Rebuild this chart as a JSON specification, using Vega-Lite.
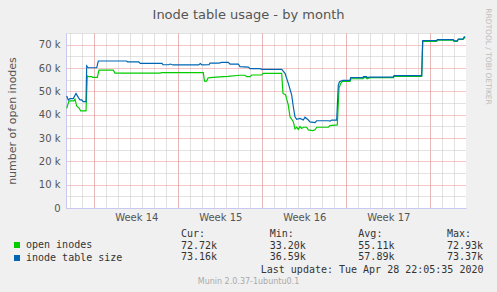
{
"$schema": "https://vega.github.io/schema/vega-lite/v6.json",
"width": 400, "height": 175,
"autosize": "none",
"padding": {"left": 66, "top": 33, "right": 31, "bottom": 84},
"background": "#F0F0F0",
"config": {
  "view": {"fill": "white", "stroke": null},
  "axis": {"labelFont": "DejaVu Sans", "titleFont": "DejaVu Sans", "titleFontWeight": "normal", "gridDash": [1, 1], "gridOpacity": 1, "domain": false, "ticks": false, "labels": false, "grid": false, "title": null}
},
"datasets": {
  "inodes": [
    {"time":"2020-03-26T16:48:00Z","series":"open inodes","value":42700},
    {"time":"2020-03-26T19:24:00Z","series":"open inodes","value":44500},
    {"time":"2020-03-26T21:24:00Z","series":"open inodes","value":45900},
    {"time":"2020-03-27T07:24:00Z","series":"open inodes","value":45900},
    {"time":"2020-03-27T09:24:00Z","series":"open inodes","value":46600},
    {"time":"2020-03-27T12:48:00Z","series":"open inodes","value":43700},
    {"time":"2020-03-27T18:00:00Z","series":"open inodes","value":42700},
    {"time":"2020-03-27T20:48:00Z","series":"open inodes","value":41600},
    {"time":"2020-03-28T07:24:00Z","series":"open inodes","value":41600},
    {"time":"2020-03-28T10:00:00Z","series":"open inodes","value":56600},
    {"time":"2020-03-28T12:00:00Z","series":"open inodes","value":56300},
    {"time":"2020-03-28T18:48:00Z","series":"open inodes","value":56300},
    {"time":"2020-03-28T20:48:00Z","series":"open inodes","value":56000},
    {"time":"2020-03-29T06:00:00Z","series":"open inodes","value":56000},
    {"time":"2020-03-29T09:24:00Z","series":"open inodes","value":59100},
    {"time":"2020-03-30T14:00:00Z","series":"open inodes","value":59100},
    {"time":"2020-03-30T17:24:00Z","series":"open inodes","value":57800},
    {"time":"2020-04-03T11:24:00Z","series":"open inodes","value":57800},
    {"time":"2020-04-03T15:24:00Z","series":"open inodes","value":58000},
    {"time":"2020-04-07T02:00:00Z","series":"open inodes","value":58000},
    {"time":"2020-04-07T04:24:00Z","series":"open inodes","value":54400},
    {"time":"2020-04-07T08:48:00Z","series":"open inodes","value":54400},
    {"time":"2020-04-07T11:24:00Z","series":"open inodes","value":55700},
    {"time":"2020-04-07T15:24:00Z","series":"open inodes","value":55900},
    {"time":"2020-04-08T11:24:00Z","series":"open inodes","value":56200},
    {"time":"2020-04-09T03:24:00Z","series":"open inodes","value":56400},
    {"time":"2020-04-10T03:24:00Z","series":"open inodes","value":56900},
    {"time":"2020-04-10T13:24:00Z","series":"open inodes","value":56900},
    {"time":"2020-04-10T16:48:00Z","series":"open inodes","value":56300},
    {"time":"2020-04-10T23:24:00Z","series":"open inodes","value":56300},
    {"time":"2020-04-11T02:48:00Z","series":"open inodes","value":57000},
    {"time":"2020-04-11T22:48:00Z","series":"open inodes","value":57000},
    {"time":"2020-04-12T01:24:00Z","series":"open inodes","value":57700},
    {"time":"2020-04-13T14:48:00Z","series":"open inodes","value":57700},
    {"time":"2020-04-13T17:24:00Z","series":"open inodes","value":49100},
    {"time":"2020-04-13T22:24:00Z","series":"open inodes","value":48600},
    {"time":"2020-04-14T04:00:00Z","series":"open inodes","value":44100},
    {"time":"2020-04-14T07:24:00Z","series":"open inodes","value":39100},
    {"time":"2020-04-14T14:00:00Z","series":"open inodes","value":37000},
    {"time":"2020-04-14T17:24:00Z","series":"open inodes","value":33900},
    {"time":"2020-04-14T20:48:00Z","series":"open inodes","value":34600},
    {"time":"2020-04-15T00:00:00Z","series":"open inodes","value":33700},
    {"time":"2020-04-15T03:24:00Z","series":"open inodes","value":34900},
    {"time":"2020-04-15T06:48:00Z","series":"open inodes","value":34100},
    {"time":"2020-04-15T10:00:00Z","series":"open inodes","value":34600},
    {"time":"2020-04-15T16:48:00Z","series":"open inodes","value":34600},
    {"time":"2020-04-15T20:00:00Z","series":"open inodes","value":33500},
    {"time":"2020-04-16T05:24:00Z","series":"open inodes","value":33200},
    {"time":"2020-04-16T09:24:00Z","series":"open inodes","value":33500},
    {"time":"2020-04-16T12:48:00Z","series":"open inodes","value":34600},
    {"time":"2020-04-17T12:00:00Z","series":"open inodes","value":34600},
    {"time":"2020-04-17T15:24:00Z","series":"open inodes","value":35300},
    {"time":"2020-04-18T06:00:00Z","series":"open inodes","value":35600},
    {"time":"2020-04-18T09:24:00Z","series":"open inodes","value":51300},
    {"time":"2020-04-18T12:48:00Z","series":"open inodes","value":53400},
    {"time":"2020-04-18T16:48:00Z","series":"open inodes","value":54300},
    {"time":"2020-04-19T07:24:00Z","series":"open inodes","value":54300},
    {"time":"2020-04-19T09:24:00Z","series":"open inodes","value":55400},
    {"time":"2020-04-20T09:24:00Z","series":"open inodes","value":55400},
    {"time":"2020-04-20T10:24:00Z","series":"open inodes","value":55900},
    {"time":"2020-04-20T16:24:00Z","series":"open inodes","value":55900},
    {"time":"2020-04-20T17:24:00Z","series":"open inodes","value":55400},
    {"time":"2020-04-20T23:24:00Z","series":"open inodes","value":55900},
    {"time":"2020-04-22T22:00:00Z","series":"open inodes","value":55900},
    {"time":"2020-04-22T23:24:00Z","series":"open inodes","value":56400},
    {"time":"2020-04-25T06:48:00Z","series":"open inodes","value":56400},
    {"time":"2020-04-25T08:48:00Z","series":"open inodes","value":71400},
    {"time":"2020-04-26T12:48:00Z","series":"open inodes","value":71400},
    {"time":"2020-04-26T14:00:00Z","series":"open inodes","value":71900},
    {"time":"2020-04-27T22:00:00Z","series":"open inodes","value":71900},
    {"time":"2020-04-27T23:24:00Z","series":"open inodes","value":71400},
    {"time":"2020-04-28T06:00:00Z","series":"open inodes","value":71400},
    {"time":"2020-04-28T08:00:00Z","series":"open inodes","value":72300},
    {"time":"2020-04-28T17:24:00Z","series":"open inodes","value":72300},
    {"time":"2020-04-28T20:00:00Z","series":"open inodes","value":72930},
    {"time":"2020-04-28T22:00:00Z","series":"open inodes","value":72720},
    {"time":"2020-03-26T16:48:00Z","series":"inode table size","value":48000},
    {"time":"2020-03-26T20:00:00Z","series":"inode table size","value":46300},
    {"time":"2020-03-26T23:24:00Z","series":"inode table size","value":46900},
    {"time":"2020-03-27T06:00:00Z","series":"inode table size","value":46900},
    {"time":"2020-03-27T11:24:00Z","series":"inode table size","value":49100},
    {"time":"2020-03-27T16:00:00Z","series":"inode table size","value":47400},
    {"time":"2020-03-27T19:24:00Z","series":"inode table size","value":46300},
    {"time":"2020-03-27T22:48:00Z","series":"inode table size","value":46300},
    {"time":"2020-03-28T02:00:00Z","series":"inode table size","value":45600},
    {"time":"2020-03-28T07:24:00Z","series":"inode table size","value":45600},
    {"time":"2020-03-28T08:48:00Z","series":"inode table size","value":60900},
    {"time":"2020-03-28T12:00:00Z","series":"inode table size","value":60100},
    {"time":"2020-03-29T04:48:00Z","series":"inode table size","value":60100},
    {"time":"2020-03-29T08:00:00Z","series":"inode table size","value":63000},
    {"time":"2020-03-31T16:48:00Z","series":"inode table size","value":63000},
    {"time":"2020-03-31T18:24:00Z","series":"inode table size","value":62600},
    {"time":"2020-04-01T16:48:00Z","series":"inode table size","value":62600},
    {"time":"2020-04-01T20:00:00Z","series":"inode table size","value":62000},
    {"time":"2020-04-03T15:24:00Z","series":"inode table size","value":62000},
    {"time":"2020-04-03T17:24:00Z","series":"inode table size","value":61400},
    {"time":"2020-04-04T04:48:00Z","series":"inode table size","value":61400},
    {"time":"2020-04-04T08:00:00Z","series":"inode table size","value":61700},
    {"time":"2020-04-04T13:24:00Z","series":"inode table size","value":61300},
    {"time":"2020-04-06T16:48:00Z","series":"inode table size","value":61300},
    {"time":"2020-04-06T20:00:00Z","series":"inode table size","value":61900},
    {"time":"2020-04-06T23:24:00Z","series":"inode table size","value":61300},
    {"time":"2020-04-07T13:24:00Z","series":"inode table size","value":61400},
    {"time":"2020-04-07T15:24:00Z","series":"inode table size","value":62100},
    {"time":"2020-04-08T09:24:00Z","series":"inode table size","value":62100},
    {"time":"2020-04-08T14:48:00Z","series":"inode table size","value":62400},
    {"time":"2020-04-09T04:00:00Z","series":"inode table size","value":62400},
    {"time":"2020-04-09T07:24:00Z","series":"inode table size","value":61700},
    {"time":"2020-04-10T00:00:00Z","series":"inode table size","value":61700},
    {"time":"2020-04-10T03:24:00Z","series":"inode table size","value":60600},
    {"time":"2020-04-10T20:00:00Z","series":"inode table size","value":60400},
    {"time":"2020-04-10T23:24:00Z","series":"inode table size","value":59700},
    {"time":"2020-04-11T19:24:00Z","series":"inode table size","value":59700},
    {"time":"2020-04-11T23:24:00Z","series":"inode table size","value":59400},
    {"time":"2020-04-13T14:48:00Z","series":"inode table size","value":59400},
    {"time":"2020-04-13T21:24:00Z","series":"inode table size","value":57700},
    {"time":"2020-04-14T04:00:00Z","series":"inode table size","value":53400},
    {"time":"2020-04-14T10:48:00Z","series":"inode table size","value":48400},
    {"time":"2020-04-14T14:00:00Z","series":"inode table size","value":43400},
    {"time":"2020-04-14T17:24:00Z","series":"inode table size","value":39100},
    {"time":"2020-04-14T20:48:00Z","series":"inode table size","value":38000},
    {"time":"2020-04-15T03:24:00Z","series":"inode table size","value":38400},
    {"time":"2020-04-15T10:00:00Z","series":"inode table size","value":37700},
    {"time":"2020-04-15T13:24:00Z","series":"inode table size","value":38900},
    {"time":"2020-04-15T20:00:00Z","series":"inode table size","value":37700},
    {"time":"2020-04-15T23:24:00Z","series":"inode table size","value":36900},
    {"time":"2020-04-16T09:24:00Z","series":"inode table size","value":36590},
    {"time":"2020-04-16T12:48:00Z","series":"inode table size","value":37400},
    {"time":"2020-04-17T12:00:00Z","series":"inode table size","value":37400},
    {"time":"2020-04-17T15:24:00Z","series":"inode table size","value":37200},
    {"time":"2020-04-17T18:48:00Z","series":"inode table size","value":37700},
    {"time":"2020-04-18T04:48:00Z","series":"inode table size","value":37700},
    {"time":"2020-04-18T08:00:00Z","series":"inode table size","value":52700},
    {"time":"2020-04-18T10:24:00Z","series":"inode table size","value":54100},
    {"time":"2020-04-18T16:48:00Z","series":"inode table size","value":54700},
    {"time":"2020-04-19T07:24:00Z","series":"inode table size","value":54700},
    {"time":"2020-04-19T08:48:00Z","series":"inode table size","value":55900},
    {"time":"2020-04-20T09:24:00Z","series":"inode table size","value":55900},
    {"time":"2020-04-20T10:24:00Z","series":"inode table size","value":56300},
    {"time":"2020-04-20T16:24:00Z","series":"inode table size","value":56300},
    {"time":"2020-04-20T17:24:00Z","series":"inode table size","value":55900},
    {"time":"2020-04-20T23:24:00Z","series":"inode table size","value":56100},
    {"time":"2020-04-22T22:00:00Z","series":"inode table size","value":56100},
    {"time":"2020-04-22T23:24:00Z","series":"inode table size","value":56700},
    {"time":"2020-04-25T06:48:00Z","series":"inode table size","value":56700},
    {"time":"2020-04-25T08:48:00Z","series":"inode table size","value":71700},
    {"time":"2020-04-26T12:48:00Z","series":"inode table size","value":71700},
    {"time":"2020-04-26T14:00:00Z","series":"inode table size","value":72200},
    {"time":"2020-04-27T22:00:00Z","series":"inode table size","value":72200},
    {"time":"2020-04-27T23:24:00Z","series":"inode table size","value":71600},
    {"time":"2020-04-28T06:00:00Z","series":"inode table size","value":71600},
    {"time":"2020-04-28T08:00:00Z","series":"inode table size","value":72400},
    {"time":"2020-04-28T17:24:00Z","series":"inode table size","value":72400},
    {"time":"2020-04-28T20:00:00Z","series":"inode table size","value":73370},
    {"time":"2020-04-28T22:00:00Z","series":"inode table size","value":73160}
  ],
  "stats": [
    {"series":"hdr","stat":"Cur","label":"Cur:"},
    {"series":"hdr","stat":"Min","label":"Min:"},
    {"series":"hdr","stat":"Avg","label":"Avg:"},
    {"series":"hdr","stat":"Max","label":"Max:"},
    {"series":"open inodes","stat":"Cur","value":72720},
    {"series":"open inodes","stat":"Min","value":33200},
    {"series":"open inodes","stat":"Avg","value":55110},
    {"series":"open inodes","stat":"Max","value":72930},
    {"series":"inode table size","stat":"Cur","value":73160},
    {"series":"inode table size","stat":"Min","value":36590},
    {"series":"inode table size","stat":"Avg","value":57890},
    {"series":"inode table size","stat":"Max","value":73370}
  ]
},
"layer": [
  {
    "data": {"name": "inodes"},
    "layer": [
      {
        "mark": {"type": "line", "strokeWidth": 1.2, "interpolate": "linear"},
        "encoding": {
          "x": {"field": "time", "type": "temporal",
                "scale": {"type": "utc", "domain": [{"year":2020,"month":3,"date":26,"hours":15,"minutes":24,"utc":true},{"year":2020,"month":4,"date":28,"hours":23,"minutes":24,"utc":true}]},
                "axis": {"orient": "bottom", "grid": true, "gridColor": "#c4c4c4", "tickCount": {"interval": "day", "step": 1},
                         "title": "Last update: Tue Apr 28 22:05:35 2020", "titleFont": "DejaVu Sans Mono", "titleFontSize": 10, "titleColor": "#333333",
                         "titleAlign": "right", "titleBaseline": "middle", "titleX": 417, "titleY": 61}},
          "y": {"field": "value", "type": "quantitative",
                "scale": {"domain": [0, 75000], "nice": false, "zero": true},
                "axis": {"orient": "left", "grid": true, "gridColor": "#c4c4c4", "values": [5000, 15000, 25000, 35000, 45000, 55000, 65000, 75000], "title": null}},
          "color": {"field": "series", "type": "nominal",
                    "scale": {"domain": ["open inodes", "inode table size"], "range": ["#00CC00", "#0066B3"]},
                    "legend": {"orient": "none", "legendX": -54, "legendY": 207, "title": null, "padding": 0,
                               "symbolType": "square", "symbolSize": 36, "symbolStrokeWidth": 0,
                               "labelFont": "DejaVu Sans Mono", "labelFontSize": 10, "labelColor": "#333333", "labelOffset": 4, "rowPadding": 3,
                               "encode": {"symbols": {"update": {"fill": {"scale": "color", "field": "value"}, "stroke": {"value": "transparent"}, "opacity": {"value": 1}}}}}}
        }
      },
      {
        "mark": {"type": "point", "opacity": 0},
        "encoding": {
          "x": {"field": "time", "type": "temporal",
                "axis": {"orient": "bottom", "grid": true, "gridColor": "#ee8c8c", "tickCount": {"interval": "week", "step": 1},
                         "title": "Munin 2.0.37-1ubuntu0.1", "titleFontSize": 8, "titleColor": "#aaaaaa",
                         "titleAlign": "center", "titleBaseline": "middle", "titleX": 182, "titleY": 73}},
          "y": {"field": "value", "type": "quantitative",
                "axis": {"orient": "left", "grid": true, "gridColor": "#ee8c8c", "values": [0, 10000, 20000, 30000, 40000, 50000, 60000, 70000],
                         "labels": true, "labelExpr": "datum.value == 0 ? '0' : (datum.value / 1000) + ' k'",
                         "labelFontSize": 10, "labelColor": "#555555", "labelPadding": 6,
                         "domain": true, "domainColor": "#c8c8f0",
                         "title": "number of open inodes", "titleFontSize": 11, "titleColor": "#555555",
                         "titleAngle": -90, "titleAlign": "center", "titleBaseline": "middle", "titleX": -54, "titleY": 87.5}}
        }
      },
      {
        "mark": {"type": "point", "opacity": 0},
        "encoding": {
          "x": {"field": "time", "type": "temporal",
                "axis": {"orient": "bottom", "values": [{"year":2020,"month":4,"date":1,"hours":12,"utc":true},{"year":2020,"month":4,"date":8,"hours":12,"utc":true},{"year":2020,"month":4,"date":15,"hours":12,"utc":true},{"year":2020,"month":4,"date":22,"hours":12,"utc":true}],
                         "labels": true, "format": "Week %V", "labelFontSize": 10, "labelColor": "#555555", "labelBaseline": "middle", "labelPadding": 9,
                         "labelFlush": false, "labelOverlap": false,
                         "domain": true, "domainColor": "#c8c8f0", "title": null}},
          "y": {"field": "value", "type": "quantitative",
                "axis": {"orient": "right", "title": "RRDTOOL / TOBI OETIKER", "titleFontSize": 7.5, "titleColor": "#bcbcbc",
                         "titleAngle": 90, "titleAlign": "center", "titleBaseline": "middle", "titleX": 21, "titleY": 23}}
        }
      },
      {
        "mark": {"type": "point", "opacity": 0},
        "encoding": {
          "x": {"field": "time", "type": "temporal",
                "axis": {"orient": "top", "title": "Inode table usage - by month", "titleFontSize": 13, "titleColor": "#555555",
                         "titleAlign": "center", "titleBaseline": "alphabetic", "titleX": 182, "titleY": -15}},
          "y": {"field": "value", "type": "quantitative", "axis": null}
        }
      }
    ],
    "resolve": {"axis": {"x": "independent", "y": "independent"}}
  },
  {
    "data": {"name": "stats"},
    "layer": [
      {
        "transform": [{"filter": "datum.series == 'hdr'"}],
        "mark": {"type": "text", "align": "left", "baseline": "middle", "font": "DejaVu Sans Mono", "fontSize": 10, "color": "#333333"},
        "encoding": {
          "x": {"field": "stat", "type": "nominal", "scale": {"type": "point", "domain": ["Cur", "Min", "Avg", "Max"], "range": [115, 381], "padding": 0}, "axis": null},
          "y": {"field": "series", "type": "nominal", "scale": {"type": "point", "domain": ["hdr", "open inodes", "inode table size"], "range": [201, 224], "padding": 0}, "axis": null},
          "text": {"field": "label", "type": "nominal"}
        }
      },
      {
        "transform": [{"filter": "datum.series != 'hdr'"}],
        "mark": {"type": "text", "align": "left", "baseline": "middle", "font": "DejaVu Sans Mono", "fontSize": 10, "color": "#333333"},
        "encoding": {
          "x": {"field": "stat", "type": "nominal", "axis": null},
          "y": {"field": "series", "type": "nominal", "axis": null},
          "text": {"field": "value", "type": "quantitative", "format": ".4s"}
        }
      }
    ]
  }
],
"resolve": {"scale": {"x": "independent", "y": "independent"}}
}
